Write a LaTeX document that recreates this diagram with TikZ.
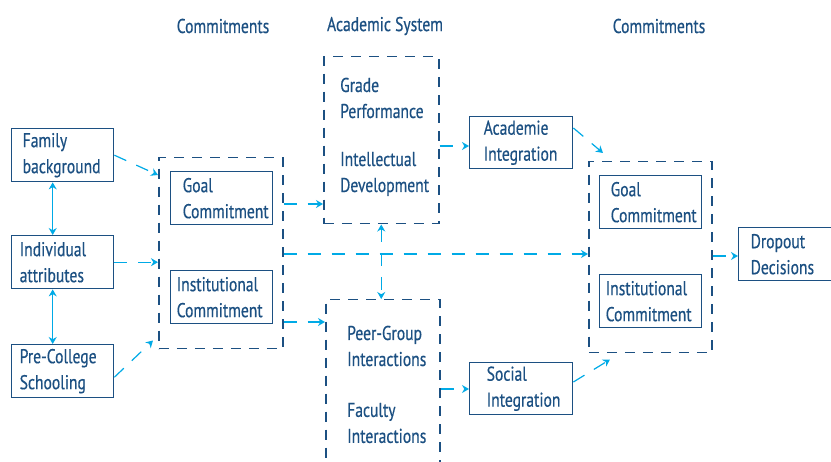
\documentclass[tikz,border=0pt]{standalone}
\usepackage{fontspec}
\setmainfont{PT Sans}[FakeStretch=0.78,FakeBold=0.5]
\usetikzlibrary{arrows.meta,calc}
\definecolor{dblue}{RGB}{28,80,130}
\definecolor{lblue}{RGB}{0,170,230}
\begin{document}
\begin{tikzpicture}[x=1pt,y=-1pt,
  every node/.style={font=\fontsize{20}{26}\selectfont, text=dblue},
  box/.style={draw=dblue, line width=1.4pt, align=left, minimum height=53pt, inner ysep=0pt, anchor=north west},
  dbox/.style={draw=dblue, line width=1.5pt, dash pattern=on 10pt off 8pt, anchor=north west, inner sep=0pt},
  txt/.style={align=left, inner sep=0pt, anchor=west},
  hdr/.style={inner sep=0pt},
  tip/.tip={Stealth[length=7pt,width=8pt]},
  conn/.style={draw=lblue, line width=1.2pt, dash pattern=on 13pt off 11pt, -tip},
  dconn/.style={draw=lblue, line width=1.2pt, dash pattern=on 13pt off 11pt, tip-tip},
  solidarr/.style={draw=lblue, line width=1.4pt, tip-tip},
]
\clip (0,0) rectangle (831,462);
% headers
\node[hdr] (h1) at (223,26) {Commitments};
\node[hdr] (h2) at (385,26) {Academic System};
\node[hdr] (h3) at (659,26) {Commitments};
% solid boxes
\node[box, inner xsep=11pt, text width=80pt] (fam) at (11,128) {Family\\background};
\node[box, inner xsep=8pt, text width=86pt] (ind) at (11,235) {Individual\\attributes};
\node[box, inner xsep=8pt, text width=86pt] (pre) at (11,344) {Pre-College\\Schooling};
\node[box, inner xsep=12pt, text width=78pt] (goalA) at (170,171) {Goal\\Commitment};
\node[box, inner xsep=6pt, text width=90pt] (instA) at (170,270) {Institutional\\Commitment};
\node[box, inner xsep=14pt, text width=75pt, minimum height=52pt] (acad) at (469,116) {Academie\\Integration};
\node[box, inner xsep=17pt, text width=69pt, minimum height=52pt] (soc) at (469,362) {Social\\Integration};
\node[box, inner xsep=11pt, text width=80pt] (goalB) at (599,175) {Goal\\Commitment};
\node[box, inner xsep=6pt, text width=90pt] (instB) at (599,274) {Institutional\\Commitment};
\node[box, inner xsep=12pt, text width=78pt] (drop) at (738,227) {Dropout\\Decisions};
% dashed groups
\node[dbox, minimum width=124pt, minimum height=191pt] (lc) at (158,157) {};
\node[dbox, minimum width=115pt, minimum height=167pt] (mtop) at (323,56) {};
\node[dbox, minimum width=114pt, minimum height=200pt] (mbot) at (325,299) {};
\node[dbox, minimum width=123pt, minimum height=191pt] (rc) at (588,161) {};
% plain texts
\node[txt] (gp) at (340,98) {Grade\\Performance};
\node[txt] (idv) at (340,174) {Intellectual\\Development};
\node[txt] (pg) at (347,346) {Peer-Group\\Interactions};
\node[txt] (fi) at (347,423) {Faculty\\Interactions};
% connectors
\draw[solidarr] ([xshift=-10pt]fam.south) -- ([xshift=-10pt]ind.north);
\draw[solidarr] ([xshift=-10pt]ind.south) -- ([xshift=-10pt]pre.north);
\draw[conn] (fam.east) -- ($(lc.north west)+(0,18)$);
\draw[conn] (ind.east) -- (ind.east -| lc.west);
\draw[conn] ($(pre.east)+(0,6)$) -- ($(lc.south west)+(-5,-9)$);
\draw[conn] ($(lc.north east)+(0,47)$) -- ($(mtop.north west)+(0,148)$);
\draw[conn] ($(lc.north east)+(0,165)$) -- ($(mbot.north west)+(0,23)$);
\draw[conn] ($(lc.north east)+(0,97)$) -- ($(rc.north west)+(0,93)$);
\draw[dconn] (mtop.south) -- (mtop.south |- mbot.north);
\draw[conn] ($(mtop.north east)+(0,90)$) -- ($(acad.north west)+(0,30)$);
\draw[conn] ($(mbot.north east)+(0,90)$) -- ($(soc.north west)+(0,27)$);
\draw[conn] ($(acad.north east)+(0,12)$) -- ($(rc.north west)+(15,-8)$);
\draw[conn] ($(soc.north east)+(0,20)$) -- ($(rc.south west)+(22,6)$);
\draw[conn] ($(rc.north east)+(0,95)$) -- ($(drop.north west)+(0,29)$);
\end{tikzpicture}
\end{document}
